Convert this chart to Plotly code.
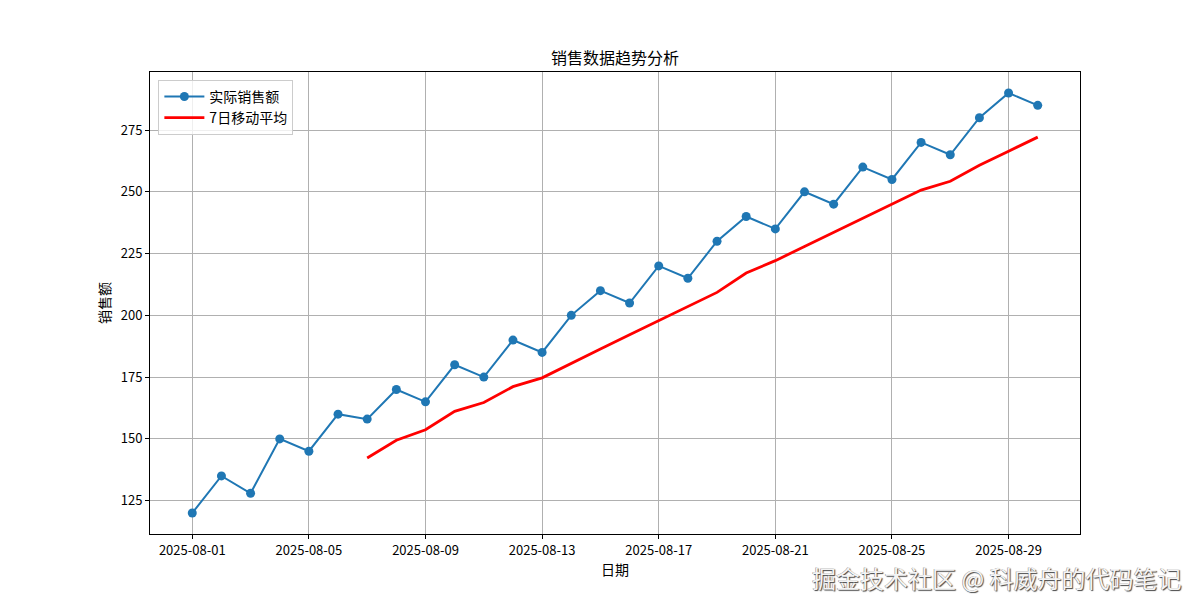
import plotly.graph_objects as go

dates = [f"2025-08-{d:02d}" for d in range(1, 31)]
sales = [120, 135, 128, 150, 145, 160, 158, 170, 165, 180,
         175, 190, 185, 200, 210, 205, 220, 215, 230, 240,
         235, 250, 245, 260, 255, 270, 265, 280, 290, 285]
ma_dates = dates[6:]
ma7 = [142.29, 149.43, 153.71, 161.14, 164.71, 171.14, 174.71, 180.71,
       186.43, 192.14, 197.86, 203.57, 209.29, 217.14, 222.14, 227.86,
       233.57, 239.29, 245.00, 250.71, 254.29, 260.71, 266.43, 272.14]
tick_dates = ["2025-08-01", "2025-08-05", "2025-08-09", "2025-08-13",
              "2025-08-17", "2025-08-21", "2025-08-25", "2025-08-29"]
y_ticks = [125, 150, 175, 200, 225, 250, 275]

FONT = "SimHei, 'Noto Sans CJK SC', sans-serif"

fig = go.Figure()
fig.add_trace(go.Scatter(
    x=dates, y=sales, mode="lines+markers", name="实际销售额",
    line=dict(color="#1f77b4", width=2),
    marker=dict(color="#1f77b4", size=9),
))
fig.add_trace(go.Scatter(
    x=ma_dates, y=ma7, mode="lines", name="7日移动平均",
    line=dict(color="#ff0000", width=2.8),
))

axis_common = dict(
    showline=True, linecolor="black", linewidth=1, mirror=True,
    showgrid=True, gridcolor="#b0b0b0", gridwidth=1,
    ticks="outside", ticklen=4, tickcolor="black", tickwidth=1,
    zeroline=False, tickfont=dict(family=FONT, size=13, color="black"),
)

fig.update_layout(
    width=1200, height=600,
    margin=dict(l=150, r=120, t=72, b=66),
    paper_bgcolor="white", plot_bgcolor="white",
    font=dict(family=FONT, color="black"),
    title=dict(text="销售数据趋势分析", x=(150 + 1080) / 2 / 1200, xanchor="center",
               y=1 - 58 / 600, yanchor="middle",
               font=dict(family=FONT, size=16, color="black")),
    showlegend=True,
    legend=dict(x=0.009, y=0.983, xanchor="left", yanchor="top",
                bgcolor="rgba(255,255,255,0.8)", bordercolor="#cccccc", borderwidth=1,
                font=dict(family=FONT, size=14, color="black"),
                tracegroupgap=0, itemwidth=40),
    xaxis=dict(axis_common, type="date",
               range=["2025-07-30 13:12", "2025-08-31 10:48"],
               tickvals=tick_dates, ticktext=tick_dates,
               title=dict(text="日期", standoff=5,
                          font=dict(family=FONT, size=14, color="black"))),
    yaxis=dict(axis_common, range=[111.5, 298.5], tickvals=y_ticks,
               title=dict(text="销售额", standoff=6,
                          font=dict(family=FONT, size=14, color="black"))),
)

fig.add_annotation(
    text="掘金技术社区 @ 科威舟的代码笔记",
    xref="paper", yref="paper", x=(1182 - 150) / 930, y=(534 - 577) / 462,
    xanchor="right", yanchor="middle", showarrow=False, borderpad=0,
    font=dict(family=FONT, size=24, color="#f4f4f4",
              shadow="1px 1px 1px #444, -0.5px -0.5px 0.5px #888"),
)

fig.write_html("out.html", config={"displayModeBar": False},
               post_script="document.body.style.margin='0';document.body.style.overflow='hidden';")
